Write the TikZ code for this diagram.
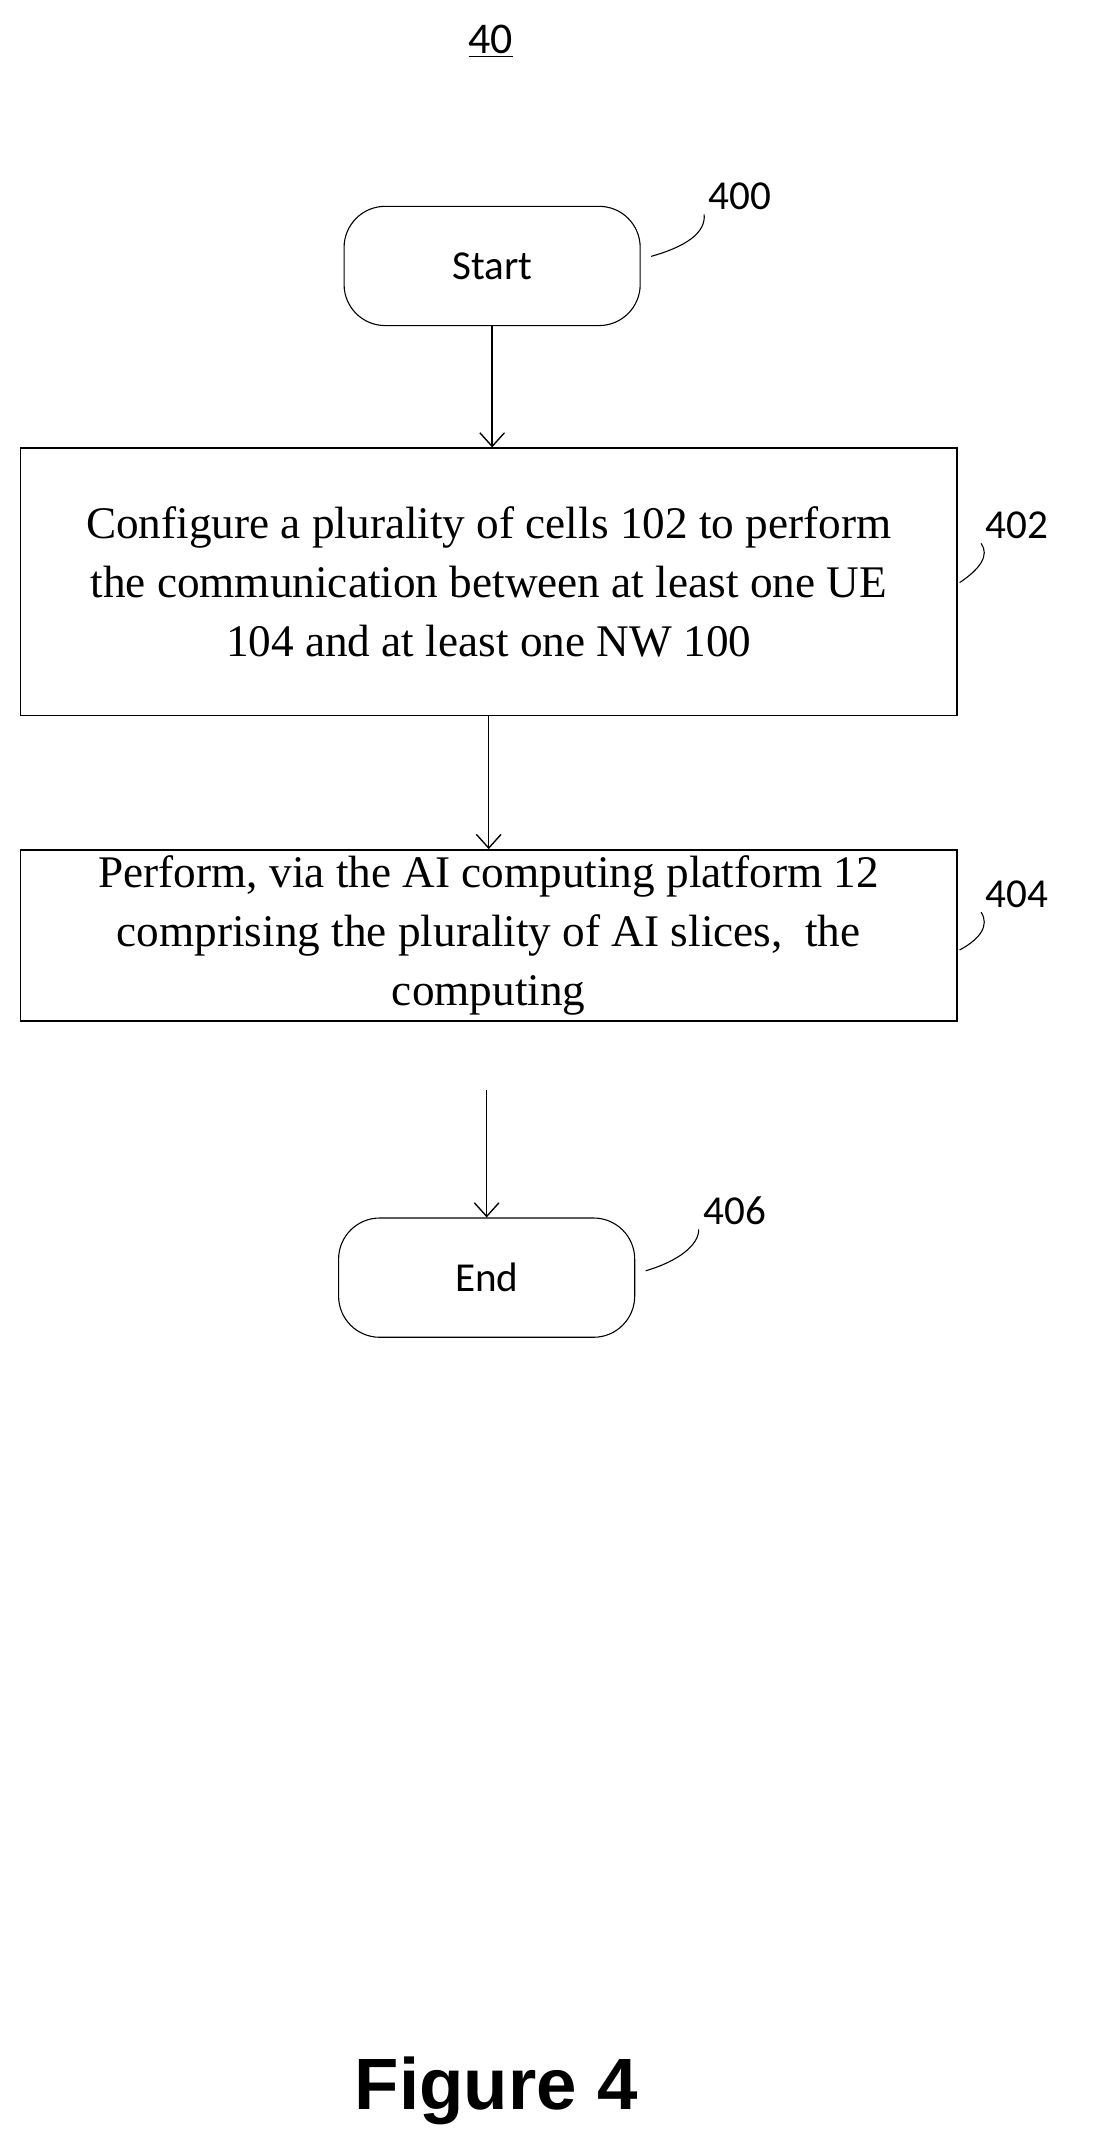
\documentclass[tikz,border=0pt]{standalone}
\usepackage{fontspec}
\setmainfont{Liberation Serif}
\newfontfamily\calfnt{Carlito}
\newfontfamily\arsfnt{Liberation Sans}
\usetikzlibrary{arrows.meta}
\begin{document}
\begin{tikzpicture}[x=1pt,y=-1pt,
  term/.style={draw,line width=0.8pt,rounded corners=30pt,minimum width=216pt,minimum height=87pt,font=\calfnt\fontsize{30}{36}\selectfont},
  proc/.style={draw,line width=1.2pt,minimum width=683pt,align=center,font=\fontsize{33}{43}\selectfont},
  lab/.style={font=\calfnt\fontsize{30}{36}\selectfont},
  arr/.style={-{Straight Barb[length=10pt,width=18pt]},line width=1pt},
  lead/.style={line width=0.8pt}]
\useasboundingbox (0,0) rectangle (806,1564);
\node[font=\calfnt\fontsize{32}{38}\selectfont] (t) at (358,30) {\underline{40}};
\node[term] (s) at (359,194) {Start};
\node[proc,minimum height=195pt] (b1) at (356.5,424.5) {Configure a plurality of cells 102 to perform\\the communication between at least one UE\\104 and at least one NW 100};
\node[proc,minimum height=125pt] (b2) at (356.5,682.5) {Perform, via the AI computing platform 12\\comprising the plurality of AI slices,\ \ the\\computing};
\node[term] (e) at (355,932) {End};
\coordinate (c1) at (355,795);
\draw[arr] (s.south) -- (s.south |- b1.north);
\draw[arr] (b1.south) -- (b2.north);
\draw[arr] (c1) -- (e.north);
\node[lab] (l400) at (540,143) {400};
\node[lab] (l402) at (742,383) {402};
\node[lab] (l404) at (742,652) {404};
\node[lab] (l406) at (536,883) {406};
\coordinate (a1) at (475,187);
\coordinate (a2) at (700,425);
\coordinate (a3) at (700,693);
\coordinate (a4) at (471,927);
\draw[lead] (a1) .. controls (500,180) and (515,170) .. (l400.south west);
\draw[lead] (a2) .. controls (715,415) and (722,405) .. (l402.south west);
\draw[lead] (a3) .. controls (715,685) and (722,675) .. (l404.south west);
\draw[lead] (a4) .. controls (495,920) and (510,908) .. (l406.south west);
\node[font=\arsfnt\bfseries\fontsize{53}{62}\selectfont] (f) at (362,1525) {Figure 4};
\end{tikzpicture}
\end{document}
